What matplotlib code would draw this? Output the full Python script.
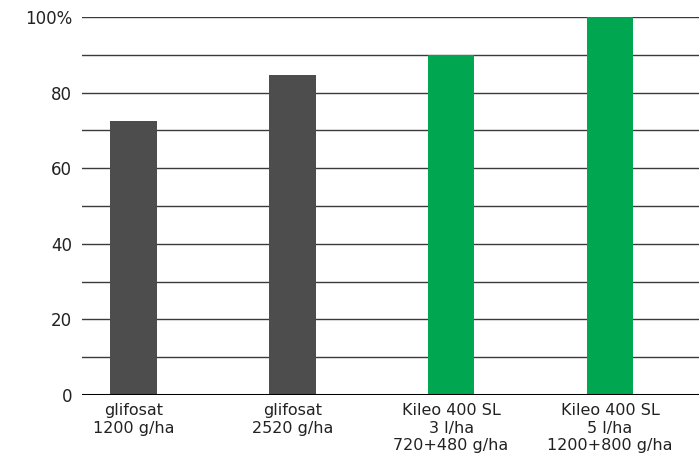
import numpy as np
import matplotlib.pyplot as plt

# data
labels = ["glifosat\n1200 g/ha", "glifosat\n2520 g/ha",
          "Kileo 400 SL\n3 l/ha\n720+480 g/ha", "Kileo 400 SL\n5 l/ha\n1200+800 g/ha"]
values = [72.5, 84.7, 90, 100]
colors = ["#4d4d4d", "#4d4d4d", "#00a650", "#00a650"]
yticks = [0, 20, 40, 60, 80, 100]
ytick_labels = ["0", "20", "40", "60", "80", "100%"]

plt.rcParams['font.family'] = ['DejaVu Sans']
fig = plt.figure(figsize=(6.99, 4.61), dpi=100)
ax = fig.add_axes([82 / 699, 1 - 395 / 461, 1 - 82 / 699, (395 - 17) / 461])

x = np.arange(len(values))
ax.bar(x, values, width=0.294, color=colors, zorder=3)

# horizontal grid every 10
for g in range(10, 101, 10):
    ax.axhline(g, color="#3a3a3a", linewidth=1.0, zorder=1)
ax.axhline(0, color="black", linewidth=2.2, zorder=4)

ax.set_xlim(-0.323, 3.56)
ax.set_ylim(0, 100)
ax.set_yticks(yticks)
ax.set_yticklabels(ytick_labels, fontsize=12, color="#222222")
ax.set_xticks(x)
ax.set_xticklabels(labels, fontsize=11.5, color="#222222", linespacing=1.2)
ax.tick_params(axis="both", length=0)
ax.tick_params(axis="y", pad=7)
ax.tick_params(axis="x", pad=6)
for s in ax.spines.values():
    s.set_visible(False)

fig.savefig("out.png", dpi=100)
